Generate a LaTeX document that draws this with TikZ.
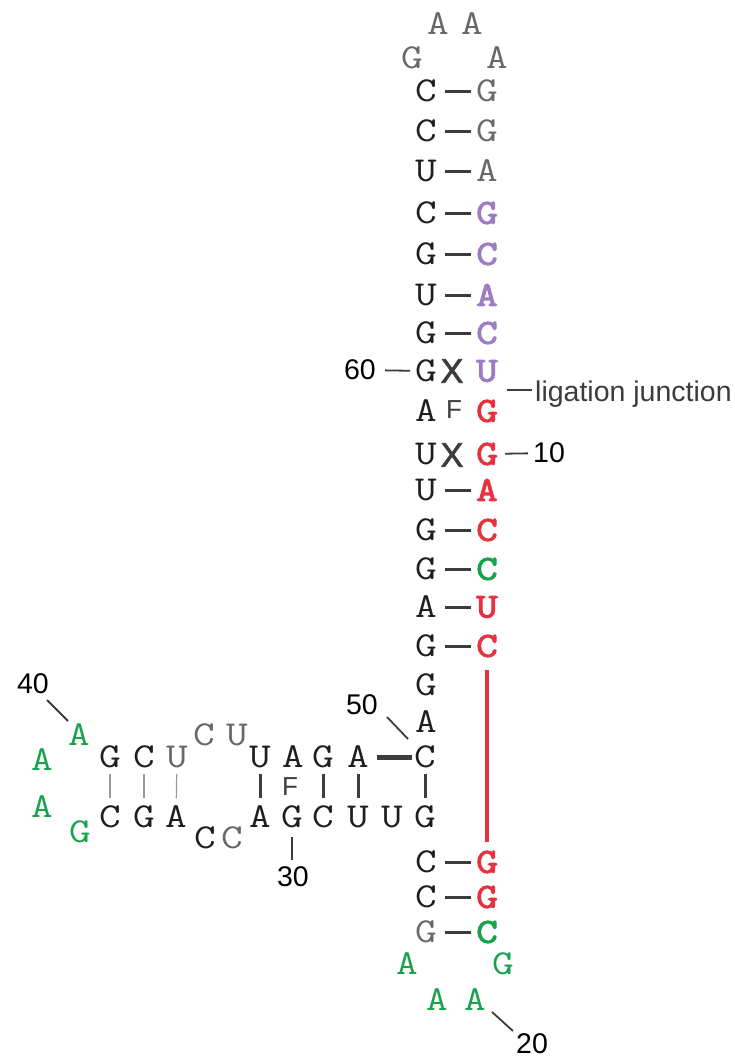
\documentclass[tikz,border=0pt]{standalone}
\usepackage{fontspec}
\usetikzlibrary{calc}
\newfontfamily\labelfont{Liberation Sans}
\newfontfamily\crossfont{Liberation Sans}[FakeBold=2]
\newfontfamily\nucfont{Latin Modern Mono}[FakeStretch=1.2]
\newfontfamily\nucbold{Latin Modern Mono}[FakeStretch=1.2, FakeBold=3]
\definecolor{ink}{HTML}{1E1E1E}
\definecolor{soft}{HTML}{686868}
\definecolor{bondc}{HTML}{3C3C3A}
\definecolor{purp}{HTML}{9C7CC2}
\definecolor{rd}{HTML}{E5323F}
\definecolor{gr}{HTML}{17A34C}
\tikzset{
  nt/.style={inner sep=0pt, font=\fontsize{35}{35}\selectfont\nucfont, text=ink},
  ns/.style={nt, text=soft},
  ng/.style={nt, text=gr},
  hl/.style={inner sep=0pt, font=\fontsize{35}{35}\selectfont\nucbold},
  hp/.style={hl, text=purp},
  hr/.style={hl, text=rd},
  hg/.style={hl, text=gr},
  num/.style={inner sep=0pt, font=\fontsize{28.5}{28.5}\selectfont\labelfont, text=black},
  xmark/.style={inner sep=0pt, font=\fontsize{34}{34}\selectfont\crossfont, text=bondc},
  fmark/.style={inner sep=0pt, font=\fontsize{26}{26}\selectfont\labelfont, text=bondc},
  bond/.style={draw=bondc, line width=3pt},
  thinbond/.style={draw=gray!80, line width=1.2pt},
  heavybond/.style={draw=bondc, line width=3pt},
  widebond/.style={draw=bondc, line width=5pt},
  tick/.style={draw=bondc, line width=1.8pt},
  longpair/.style={draw=rd, line width=4pt},
}
% Watson-Crick dash between two stacked bases
\newcommand\pair[2]{\draw[bond] ($(#1)!19pt!(#2)$) -- ($(#2)!16pt!(#1)$);}
\newcommand\vpair[3]{\draw[#3] ($(#1)!17pt!(#2)$) -- ($(#2)!19pt!(#1)$);}

\begin{document}
\begin{tikzpicture}[x=1pt, y=-1pt]
\useasboundingbox[fill=white] (0,0) rectangle (734,1058);

% apical loop
\node[ns] (t1) at (438,24) {A};
\node[ns] (t2) at (472,24) {A};
\node[ns] (t3) at (412,58) {G};
\node[ns] (t4) at (497,58) {A};

% main stem, 5' strand (left) and 3' strand (right)
\node[nt] (L1) at (426,91) {C};   \node[ns] (R1) at (487,91) {G};
\node[nt] (L2) at (426,131) {C};  \node[ns] (R2) at (487,131) {G};
\node[nt] (L3) at (426,171) {U};  \node[ns] (R3) at (487,171) {A};
\node[nt] (L4) at (426,213) {C};  \node[hp] (R4) at (487,213) {G};
\node[nt] (L5) at (426,254) {G};  \node[hp] (R5) at (487,254) {C};
\node[nt] (L6) at (426,295) {U};  \node[hp] (R6) at (487,295) {A};
\node[nt] (L7) at (426,333) {G};  \node[hp] (R7) at (487,333) {C};
\node[nt] (L8) at (426,371) {G};  \node[hp] (R8) at (487,371) {U};
\node[nt] (L9) at (426,411) {A};  \node[hr] (R9) at (487,411) {G};
\node[nt] (L10) at (426,454) {U}; \node[hr] (R10) at (487,454) {G};
\node[nt] (L11) at (426,490) {U}; \node[hr] (R11) at (487,490) {A};
\node[nt] (L12) at (426,530) {G}; \node[hr] (R12) at (487,530) {C};
\node[nt] (L13) at (426,569) {G}; \node[hg] (R13) at (487,569) {C};
\node[nt] (L14) at (426,607) {A}; \node[hr] (R14) at (487,607) {U};
\node[nt] (L15) at (426,646) {G}; \node[hr] (R15) at (487,646) {C};
\node[nt] (L16) at (426,685) {G};
\node[nt] (L17) at (426,722) {A};
\node[nt] (L18) at (425,757) {C};
\node[nt] (L19) at (425,817) {G};
\node[nt] (L20) at (426,862) {C}; \node[hr] (R20) at (487,862) {G};
\node[nt] (L21) at (426,897) {C}; \node[hr] (R21) at (487,897) {G};
\node[ns] (L22) at (426,932) {G}; \node[hg] (R22) at (487,932) {C};

% lower loop
\node[ng] (b1) at (407,964) {A};
\node[ng] (b2) at (437,1000) {A};
\node[ng] (b3) at (475,1000) {A};
\node[ng] (b4) at (503,964) {G};

% non-canonical marks in the stem
\node[xmark] (x1) at (452,371) {X};
\node[fmark] (f1) at (454,410) {F};
\node[xmark] (x2) at (452,455) {X};

% base pairs of the main stem
\foreach \k in {1,...,7,11,12,13,14,15,20,21,22} {\pair{L\k}{R\k}}
\draw[longpair] ($(R15)!24pt!(R20)$) -- ($(R20)!20pt!(R15)$);

% side arm, upper strand
\node[nt] (u1) at (110,757) {G};
\node[nt] (u2) at (144,757) {C};
\node[ns] (u3) at (177,757) {U};
\node[ns] (u4) at (204,735) {C};
\node[ns] (u5) at (237,735) {U};
\node[nt] (u6) at (260,757) {U};
\node[nt] (u7) at (293,757) {A};
\node[nt] (u8) at (323,757) {G};
\node[nt] (u9) at (358,757) {A};

% side arm, lower strand
\node[nt] (d1) at (110,817) {C};
\node[nt] (d2) at (144,817) {G};
\node[nt] (d3) at (176,817) {A};
\node[nt] (d4) at (205,838) {C};
\node[ns] (d5) at (232,838) {C};
\node[nt] (d6) at (260,817) {A};
\node[nt] (d7) at (292,817) {G};
\node[nt] (d8) at (323,817) {C};
\node[nt] (d9) at (358,817) {U};
\node[nt] (d10) at (392,817) {U};

% side loop
\node[ng] (s1) at (79,735) {A};
\node[ng] (s2) at (42,760) {A};
\node[ng] (s3) at (42,807) {A};
\node[ng] (s4) at (80,832) {G};

\node[fmark] (f2) at (290,787) {F};

% side arm pairs
\vpair{u1}{d1}{thinbond}
\vpair{u2}{d2}{thinbond}
\vpair{u3}{d3}{thinbond}
\vpair{u6}{d6}{heavybond}
\vpair{u8}{d8}{heavybond}
\vpair{u9}{d9}{heavybond}
\vpair{L18}{L19}{heavybond}
\draw[widebond] ($(u9)!19pt!(L18)$) -- ($(L18)!13pt!(u9)$);

% numbering and annotation
\node[num] (n60) at (360,370) {60};
\draw[tick] ($(n60)!25pt!(L8)$) -- ($(L8)!16pt!(n60)$);
\node[num] (n10) at (549,453) {10};
\draw[tick] ($(R10)!18pt!(n10)$) -- ($(n10)!21pt!(R10)$);
\coordinate (lj) at (487,390);
\node[num, anchor=base west, text=bondc] (lig) at (535,401) {ligation junction};
\draw[tick] ($(lj)+(20,0)$) -- ($(lig.west |- lj)+(-3,0)$);
\node[num] (n40) at (33,684) {40};
\draw[tick] ($(n40)+(14,16)$) -- ($(s1)+(-11,-14)$);
\node[num] (n50) at (362,705) {50};
\draw[tick] ($(L18)+(-17,-18)$) -- ($(n50)+(25,12)$);
\node[num] (n30) at (293,877) {30};
\draw[tick] ($(d7)+(0,20)$) -- ($(n30)+(-1,-17)$);
\node[num] (n20) at (532,1044) {20};
\draw[tick] ($(b3)+(17,12)$) -- ($(n20)+(-19,-13)$);
\end{tikzpicture}
\end{document}
